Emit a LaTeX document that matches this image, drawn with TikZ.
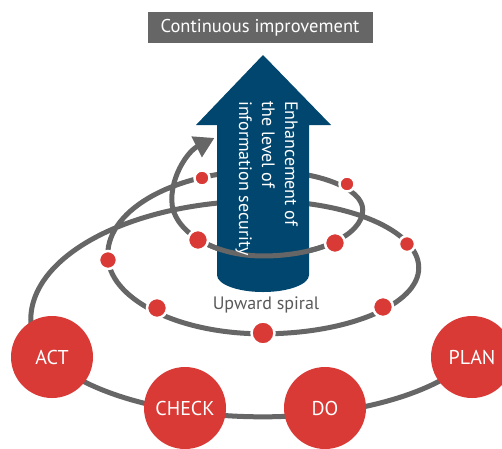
\documentclass[tikz,border=0pt]{standalone}
\usepackage{fontspec}
\setmainfont{PT Sans}
\usetikzlibrary{arrows.meta}
\definecolor{pdcared}{HTML}{D93A36}
\definecolor{arrowblue}{HTML}{00466E}
\definecolor{linegray}{HTML}{666666}
\definecolor{labelgray}{HTML}{595959}

\begin{document}
\begin{tikzpicture}[x=1pt,y=-1pt,
	spiral/.style={draw=linegray,line width=5pt},
	dot/.style={circle,fill=pdcared,draw=white,line width=2.5pt,inner sep=0pt,minimum size=#1},
	phase/.style={circle,fill=pdcared,minimum size=82pt,inner sep=0pt,text=white,font=\fontsize{20}{22}\selectfont}]
	\clip (0,0) rectangle (502,448);
	\draw[spiral,-{Triangle[length=20pt,width=22pt]}] (477,353)
		arc[start angle=20,end angle=90,x radius=228,y radius=97]
		arc[start angle=90,end angle=180,x radius=232,y radius=97]
		arc[start angle=180,end angle=270,x radius=232,y radius=119]
		arc[start angle=270,end angle=360,x radius=156,y radius=67]
		arc[start angle=0,end angle=90,x radius=156,y radius=66]
		arc[start angle=90,end angle=180,x radius=155,y radius=79]
		arc[start angle=180,end angle=270,x radius=155,y radius=84]
		arc[start angle=270,end angle=360,x radius=100,y radius=39]
		arc[start angle=0,end angle=90,x radius=100,y radius=46]
		arc[start angle=90,end angle=180,x radius=91,y radius=56]
		arc[start angle=180,end angle=238,x radius=91,y radius=73];
	\fill[arrowblue] (263,55) -- (331,125) -- (309,125) -- (309,275)
		arc[start angle=0,end angle=180,x radius=46,y radius=17] -- (217,125) -- (196,125) -- cycle;
	\draw[spiral] (333.7,242.5)
		arc[start angle=45,end angle=90,x radius=100,y radius=46]
		arc[start angle=90,end angle=135,x radius=91,y radius=56];
	\node[dot=15pt] (d1) at (202,178) {};
	\node[dot=15pt] (d2) at (347,184) {};
	\node[dot=20pt] (d3) at (198,240) {};
	\node[dot=20pt] (d4) at (335,243) {};
	\node[dot=18pt] (d5) at (108,260) {};
	\node[dot=16pt] (d6) at (407,244) {};
	\node[dot=20pt] (d7) at (157,308) {};
	\node[dot=20pt] (d8) at (383,307) {};
	\node[dot=23pt] (d9) at (263,333) {};
	\node[phase] (act) at (52,357) {ACT};
	\node[phase] (check) at (185,408) {CHECK};
	\node[phase] (do) at (325,408) {DO};
	\node[phase] (plan) at (472,357) {PLAN};
	\node[text=labelgray,font=\fontsize{18}{20}\selectfont] (upward) at (266,305) {Upward spiral};
	\node[fill=linegray,text=white,minimum width=225pt,minimum height=31pt,font=\fontsize{18.5}{20}\selectfont] (title) at (260,27.5) {Continuous improvement};
	\node[rotate=-90,anchor=north west,align=left,inner sep=0pt,text=white,font=\fontsize{18}{23}\selectfont] (enh) at (298,101) {Enhancement of\\the level of\\information security};
\end{tikzpicture}
\end{document}
